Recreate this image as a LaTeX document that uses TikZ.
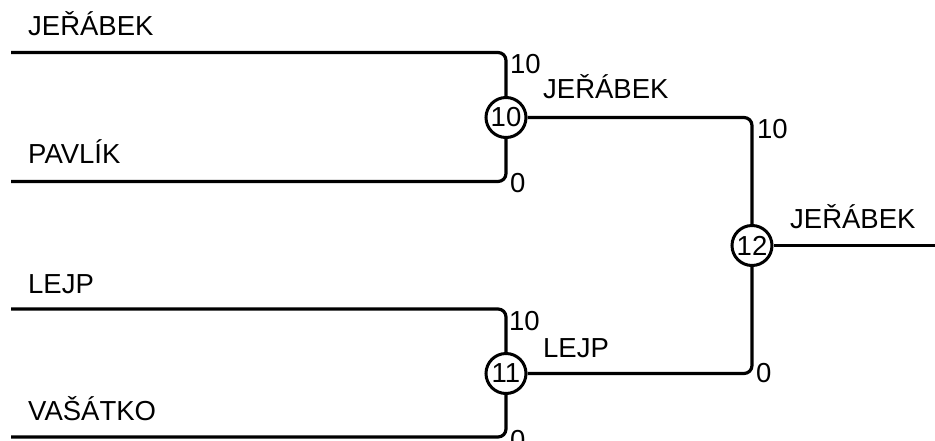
\documentclass[tikz,border=0pt]{standalone}
\usepackage{fontspec}
\setmainfont{Liberation Sans}
\begin{document}
\begin{tikzpicture}[x=1pt,y=-1pt,
  every node/.style={font=\fontsize{27.5}{32}\selectfont, inner sep=0pt},
  lbl/.style={anchor=base west},
  match/.style={draw, circle, line width=3pt, minimum size=40pt, inner sep=0pt},
  conn/.style={line width=3.2pt, rounded corners=8pt}]
\useasboundingbox (0,0) rectangle (935,440);
% players
\node[lbl] (p1) at (28,35) {JEŘÁBEK};
\node[lbl] (p2) at (28,163) {PAVLÍK};
\node[lbl] (p3) at (28,293) {LEJP};
\node[lbl] (p4) at (28,420) {VAŠÁTKO};
\coordinate (s1) at (11,52.5);
\coordinate (s2) at (11,181.5);
\coordinate (s3) at (11,309);
\coordinate (s4) at (11,437);
% matches
\node[match] (c10) at (506,117.5) {10};
\node[match] (c11) at (506,373.5) {11};
\node[match] (c12) at (752,245.5) {12};
\coordinate (e) at (936,245.5);
% connectors
\draw[conn] (s1) -| (c10);
\draw[conn] (s2) -| (c10);
\draw[conn] (s3) -| (c11);
\draw[conn] (s4) -| (c11);
\draw[conn] (c10) -| (c12);
\draw[conn] (c11) -| (c12);
\draw[conn] (c12) -- (e);
% scores
\node[lbl] (n1) at (510,73) {10};
\node[lbl] (n2) at (510,192) {0};
\node[lbl] (n3) at (509,330) {10};
\node[lbl] (n4) at (510,449) {0};
\node[lbl] (n5) at (757,138) {10};
\node[lbl] (n6) at (756,382) {0};
% winners
\node[lbl] (w1) at (543,98) {JEŘÁBEK};
\node[lbl] (w2) at (543,357) {LEJP};
\node[lbl] (w3) at (790,228) {JEŘÁBEK};
\end{tikzpicture}
\end{document}
